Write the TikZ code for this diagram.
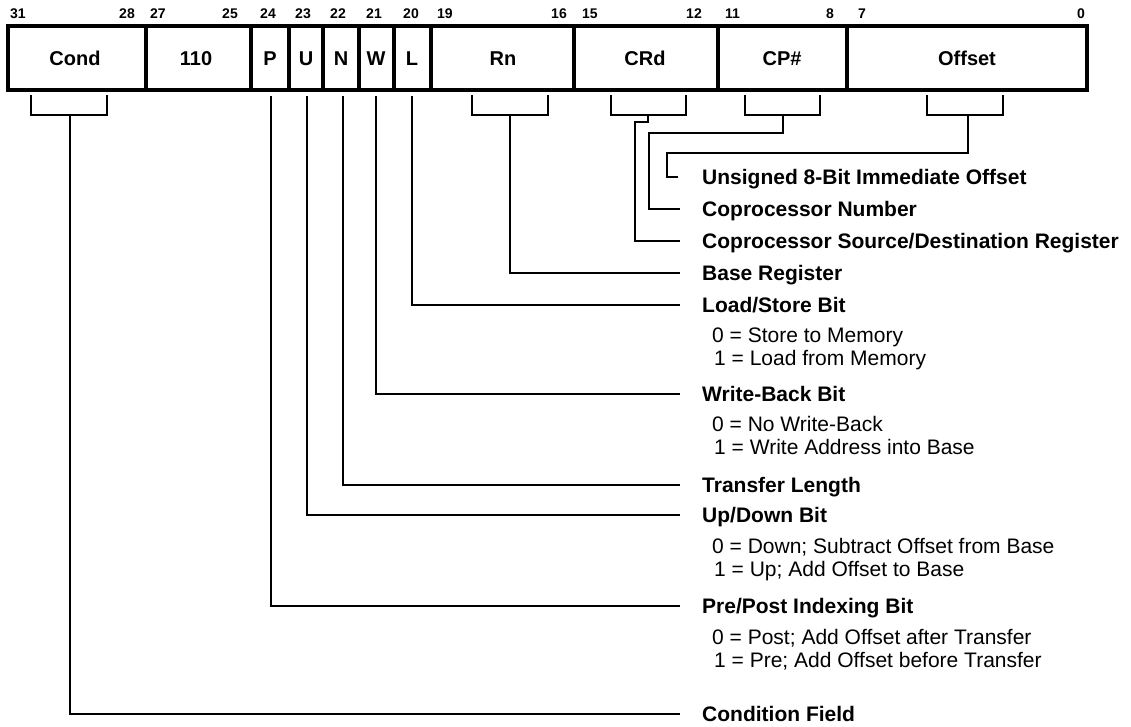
\documentclass[tikz,border=0pt]{standalone}
\usepackage{fontspec}
\setmainfont{Liberation Sans}
\begin{document}
\begin{tikzpicture}[x=1pt,y=-1pt,
  box/.style={line width=3.4pt},
  lead/.style={line width=2.4pt},
  bitno/.style={font=\fontsize{14}{14}\selectfont\bfseries, inner sep=0pt, text height=10pt, text depth=0pt},
  fld/.style={font=\fontsize{20}{20}\selectfont\bfseries, inner sep=0pt, text height=14.3pt, text depth=0pt},
  head/.style={font=\fontsize{21}{21}\selectfont\bfseries, anchor=west, inner sep=0pt, text height=15pt, text depth=0pt},
  val/.style={font=\fontsize{21}{21}\selectfont, anchor=west, inner sep=0pt, text height=15pt, text depth=0pt}]
\useasboundingbox (0,0) rectangle (1131,727);
% register box
\draw[box] (8,26) rectangle (1087,90);
\foreach \x in {146,251,289,323,359,394,431,574,718,847} \draw[box] (\x,26) -- (\x,90);
% field labels
\node[fld] (fCond) at (75,58) {Cond};
\node[fld] (f110) at (196,58) {110};
\node[fld] (fP) at (270,58) {P};
\node[fld] (fU) at (306,58) {U};
\node[fld] (fN) at (341,58) {N};
\node[fld] (fW) at (376,58) {W};
\node[fld] (fL) at (412,58) {L};
\node[fld] (fRn) at (503,58) {Rn};
\node[fld] (fCRd) at (645,58) {CRd};
\node[fld] (fCP) at (782,58) {CP\#};
\node[fld] (fOff) at (967,58) {Offset};
% bit numbers
\node[bitno,anchor=west] (b31) at (10,14) {31};
\node[bitno,anchor=east] (b28) at (135,14) {28};
\node[bitno,anchor=west] (b27) at (150,14) {27};
\node[bitno,anchor=east] (b25) at (238,14) {25};
\node[bitno] (b24) at (268,14) {24};
\node[bitno] (b23) at (303,14) {23};
\node[bitno] (b22) at (338,14) {22};
\node[bitno] (b21) at (374,14) {21};
\node[bitno] (b20) at (411,14) {20};
\node[bitno,anchor=west] (b19) at (437,14) {19};
\node[bitno,anchor=east] (b16) at (567,14) {16};
\node[bitno,anchor=west] (b15) at (582,14) {15};
\node[bitno,anchor=east] (b12) at (702,14) {12};
\node[bitno,anchor=west] (b11) at (725,14) {11};
\node[bitno,anchor=east] (b8) at (834,14) {8};
\node[bitno,anchor=west] (b7) at (858,14) {7};
\node[bitno,anchor=east] (b0) at (1085,14) {0};
% descriptions
\node[head] (hImm) at (702,177) {Unsigned 8-Bit Immediate Offset};
\node[head] (hCPN) at (702,209) {Coprocessor Number};
\node[head] (hCRd) at (702,241) {Coprocessor Source/Destination Register};
\node[head] (hRn) at (702,273) {Base Register};
\node[head] (hL) at (702,305) {Load/Store Bit};
\node[val] (vL0) at (712,335) {0 = Store to Memory};
\node[val] (vL1) at (714,358) {1 = Load from Memory};
\node[head] (hW) at (702,394) {Write-Back Bit};
\node[val] (vW0) at (712,424) {0 = No Write-Back};
\node[val] (vW1) at (714,447) {1 = Write Address into Base};
\node[head] (hN) at (702,485) {Transfer Length};
\node[head] (hU) at (702,515) {Up/Down Bit};
\node[val] (vU0) at (712,546) {0 = Down; Subtract Offset from Base};
\node[val] (vU1) at (714,569) {1 = Up; Add Offset to Base};
\node[head] (hP) at (702,606) {Pre/Post Indexing Bit};
\node[val] (vP0) at (712,637) {0 = Post; Add Offset after Transfer};
\node[val] (vP1) at (714,660) {1 = Pre; Add Offset before Transfer};
\node[head] (hCond) at (702,714) {Condition Field};
% brackets
\coordinate (kCond) at (70,115);
\coordinate (kRn) at (510,115);
\coordinate (kCRd) at (648,115);
\coordinate (kCP) at (783,115);
\coordinate (kOff) at (968,115);
\draw[lead] (31,95) |- (kCond) -| (107,95);
\draw[lead] (472,95) |- (kRn) -| (548,95);
\draw[lead] (611,95) |- (kCRd) -| (686,95);
\draw[lead] (745,95) |- (kCP) -| (820,95);
\draw[lead] (927,95) |- (kOff) -| (1003,95);
% leaders
\draw[lead] (kOff) -- (968,153) -- (667,153) |- ([xshift=-24pt]hImm.west);
\draw[lead] (kCP) -- (783,133) -- (649,133) |- ([xshift=-22pt]hCPN.west);
\draw[lead] (kCRd) -- (648,122) -- (635,122) |- ([xshift=-22pt]hCRd.west);
\draw[lead] (kRn) |- ([xshift=-22pt]hRn.west);
\draw[lead] (fL.center |- 0,96) |- ([xshift=-22pt]hL.west);
\draw[lead] (fW.center |- 0,96) |- ([xshift=-22pt]hW.west);
\draw[lead] (343,96) |- ([xshift=-22pt]hN.west);
\draw[lead] (307,96) |- ([xshift=-22pt]hU.west);
\draw[lead] (271,96) |- ([xshift=-22pt]hP.west);
\draw[lead] (kCond) |- ([xshift=-22pt]hCond.west);
\end{tikzpicture}
\end{document}
